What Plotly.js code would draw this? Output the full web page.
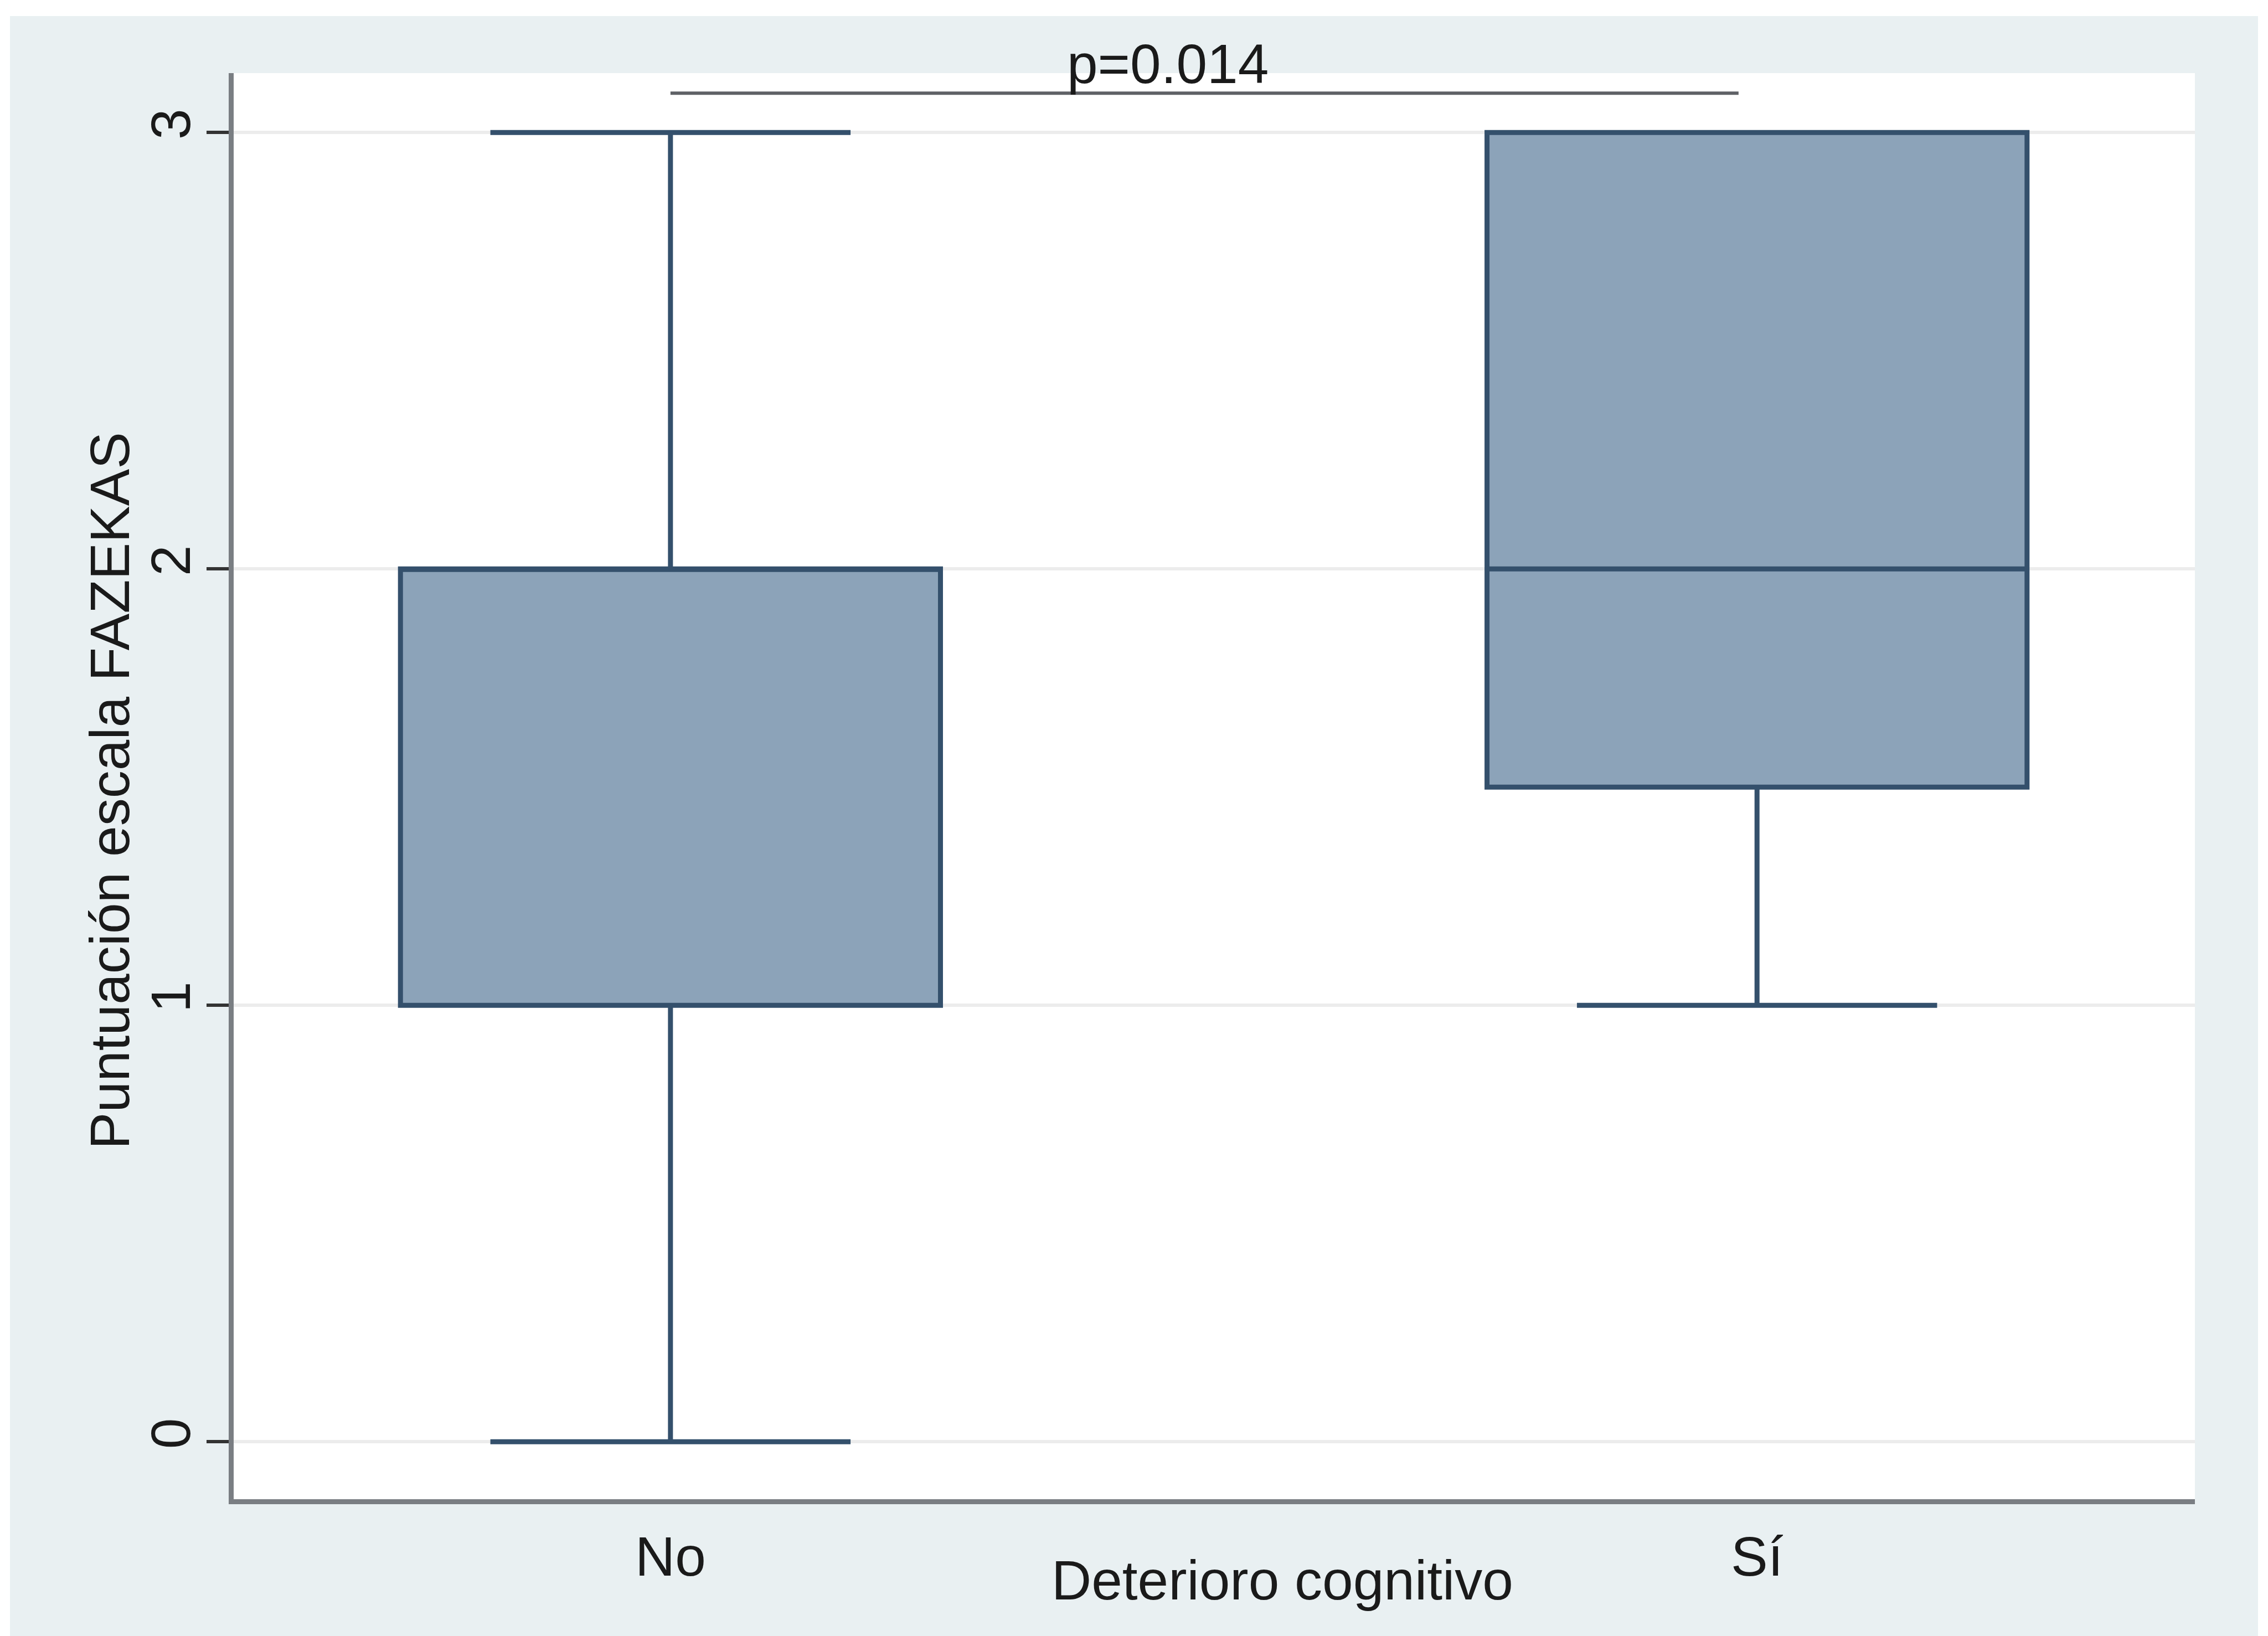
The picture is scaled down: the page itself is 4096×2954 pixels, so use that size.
<!DOCTYPE html>
<html>
<head>
<meta charset="utf-8">
<script src="https://cdn.plot.ly/plotly-3.0.1.min.js"></script>
<style>
  html, body { margin: 0; padding: 0; background: #ffffff; width: 4096px; height: 2954px; overflow: hidden; }
  #chart { position: absolute; left: 18px; top: 29px; width: 4060px; height: 2925px; }
</style>
</head>
<body>
<div id="chart"></div>
<script>
// ---- Data ----
const categories = ['No', 'Sí'];
const lowerFence = [0, 1];
const q1Values = [1, 1.5];
const medianValues = [2, 2];
const q3Values = [2, 3];
const upperFence = [3, 3];
const yTickVals = [0, 1, 2, 3];
const yTickText = ['0', '1', '2', '3'];
const pValueText = 'p=0.014';
const pBracketY = 3.09;
const pBracketEnd = 0.983;
const xTitle = 'Deterioro cognitivo';
const yTitle = 'Puntuación escala FAZEKAS';

const FONT = '"Liberation Sans", Arial, Helvetica, sans-serif';
const TXT = '#1a1a1a';

const trace = {
  type: 'box',
  x: categories,
  q1: q1Values,
  median: medianValues,
  q3: q3Values,
  lowerfence: lowerFence,
  upperfence: upperFence,
  boxpoints: false,
  width: 0.497,
  whiskerwidth: 0.667,
  fillcolor: '#8ca3b9',
  line: { color: '#34506c', width: 9 },
  hoverinfo: 'skip',
  showlegend: false
};

const layout = {
  width: 4060,
  height: 2925,
  margin: { l: 404, r: 114, t: 103, b: 247, pad: 0 },
  paper_bgcolor: '#e9f0f2',
  plot_bgcolor: '#ffffff',
  showlegend: false,
  font: { family: FONT, size: 100, color: TXT },
  xaxis: {
    type: 'category',
    categoryorder: 'array',
    categoryarray: categories,
    range: [-0.402, 1.403],
    showline: true,
    linecolor: '#7a7e83',
    linewidth: 9,
    ticks: '',
    showgrid: false,
    zeroline: false,
    tickfont: { family: FONT, size: 100, color: TXT },
    ticklabelstandoff: 9,
    fixedrange: true
  },
  yaxis: {
    range: [-0.1315, 3.136],
    tickmode: 'array',
    tickvals: yTickVals,
    ticktext: yTickText,
    tickangle: -90,
    ticks: 'outside',
    ticklen: 40,
    tickwidth: 6,
    tickcolor: '#333333',
    showline: true,
    linecolor: '#7a7e83',
    linewidth: 9,
    showgrid: true,
    gridcolor: '#ececec',
    gridwidth: 6,
    zeroline: false,
    tickfont: { family: FONT, size: 100, color: TXT },
    ticklabelstandoff: -10,
    fixedrange: true
  },
  shapes: [
    {
      type: 'line', xref: 'x', yref: 'y',
      x0: 0, x1: pBracketEnd, y0: pBracketY, y1: pBracketY,
      line: { color: '#5f6166', width: 6 }
    }
  ],
  annotations: [
    {
      text: pValueText, xref: 'paper', yref: 'paper',
      x: 0.4763, y: 1.0066, xanchor: 'center', yanchor: 'middle',
      showarrow: false, font: { family: FONT, size: 100, color: TXT }
    },
    {
      text: xTitle, xref: 'paper', yref: 'paper',
      x: 0.5346, y: -0.0567, xanchor: 'center', yanchor: 'middle',
      showarrow: false, font: { family: FONT, size: 100, color: TXT }
    },
    {
      text: yTitle, xref: 'paper', yref: 'paper',
      x: -0.0632, y: 0.4967, xanchor: 'center', yanchor: 'middle',
      textangle: -90,
      showarrow: false, font: { family: FONT, size: 100, color: TXT }
    }
  ]
};

Plotly.newPlot('chart', [trace], layout, { staticPlot: true, displayModeBar: false });
</script>
</body>
</html>
